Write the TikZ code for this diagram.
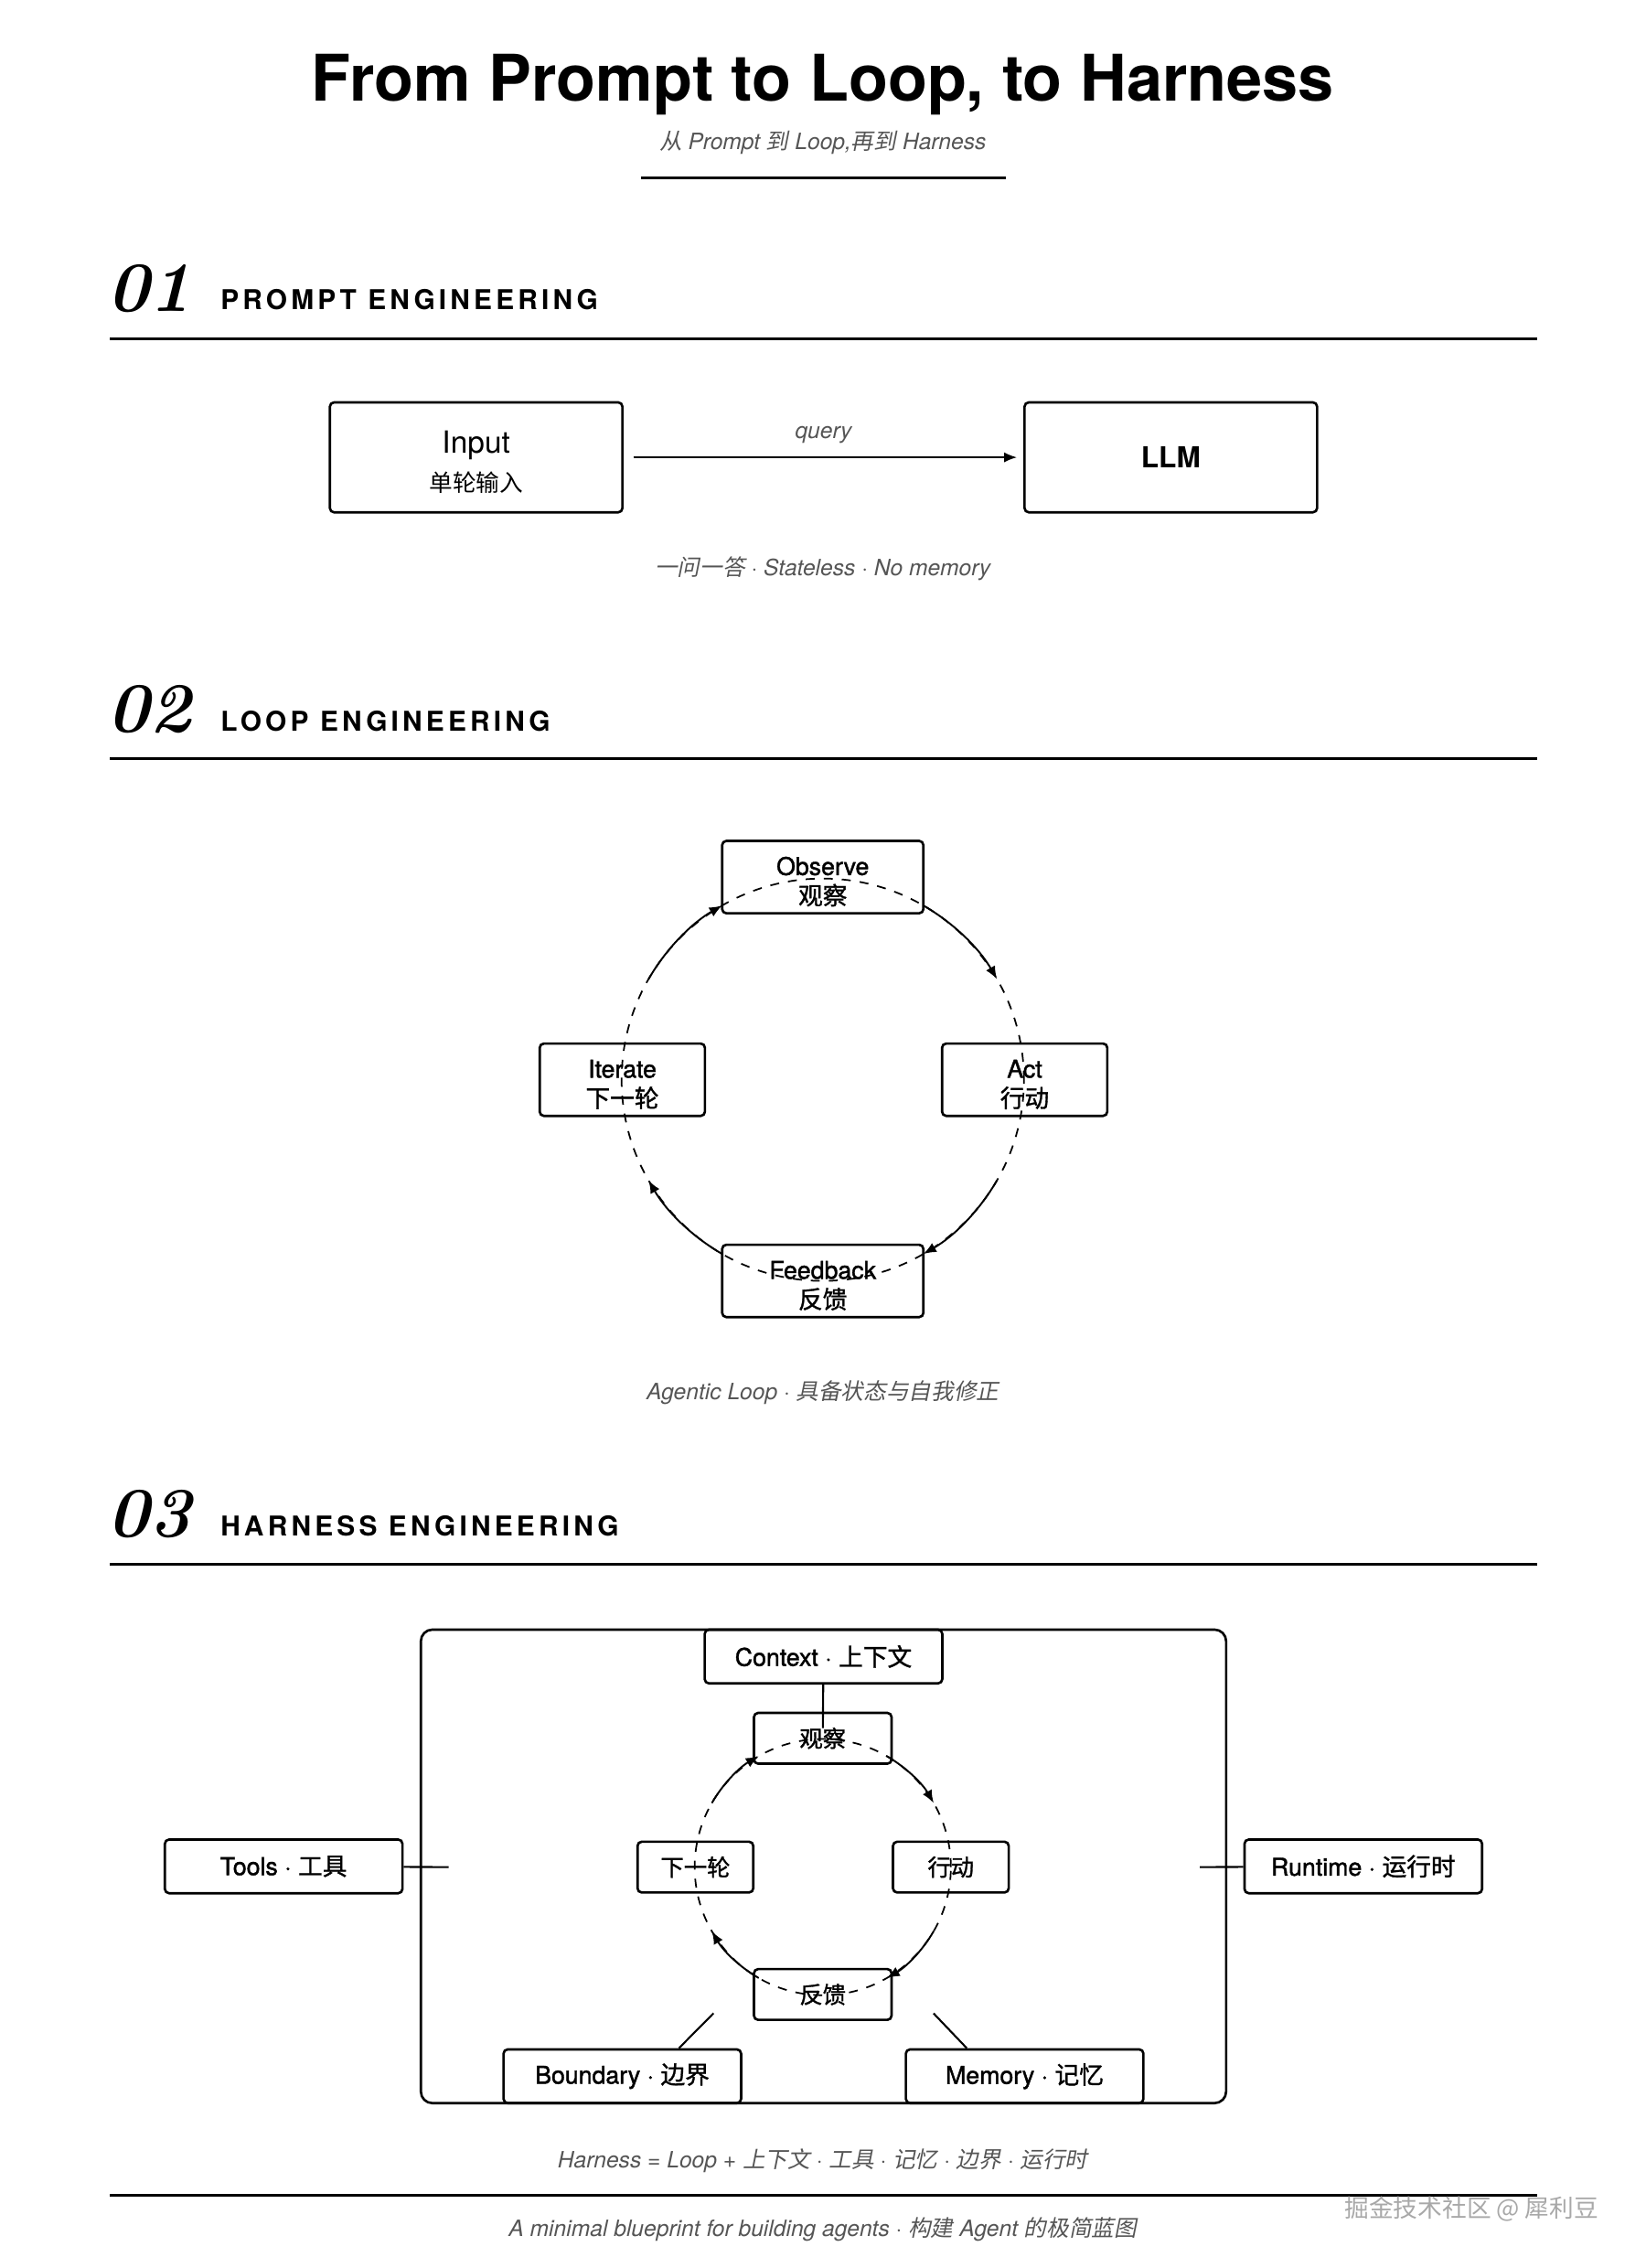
\documentclass[tikz,border=0pt]{standalone}
\usepackage{fontspec}
\setsansfont{TeX Gyre Heros}
\renewcommand{\familydefault}{\sfdefault}
\newfontfamily\numfont{Latin Modern Roman}
\newfontfamily\labfont[FakeBold=1.5]{TeX Gyre Heros}
\newfontfamily\zhfont{Noto Sans CJK SC}
\newfontfamily\zhlabfont[FakeBold=1.2]{Noto Sans CJK SC}
\newfontfamily\zhitfont[FakeSlant=0.2]{Noto Sans CJK SC}
\newcommand{\zh}[1]{{\zhlabfont #1}}
\newcommand{\zhit}[1]{{\zhitfont #1}}
\usepackage{xcolor}
\usepackage{tikz}
\usetikzlibrary{arrows.meta}
\definecolor{capgray}{HTML}{555555}
\definecolor{markgray}{HTML}{A8A8A8}

\begin{document}
\begin{tikzpicture}[x=0.01583cm, y=0.01583cm]
				\tikzset{arrow/.style={-{Latex[length=4pt, width=3.2pt]}, line width=0.55pt}}
				\tikzset{box/.style={draw, rounded corners=1.3pt, line width=0.75pt, inner sep=0pt, align=center}}
				\tikzset{rule/.style={line width=0.8pt}}
				\tikzset{loopline/.style={dash pattern=on 2.8pt off 2.8pt, line width=0.5pt}}
				\tikzset{caption/.style={text=capgray, font=\itshape\fontsize{7}{8}\selectfont, anchor=base, inner sep=0pt}}
				\tikzset{num/.style={font=\numfont\bfseries\itshape\fontsize{22}{22}\selectfont, anchor=base west, inner sep=0pt}}
				\tikzset{head/.style={font=\bfseries\fontsize{8.5}{10}\selectfont\addfontfeature{LetterSpace=14}, anchor=base west, inner sep=0pt}}
				\tikzset{bigbox/.style={box, minimum width=91pt, minimum height=34.2pt}}
				\tikzset{stepbox/.style={box, minimum height=22.5pt, font=\labfont\fontsize{7.6}{9.2}\selectfont}}
				\tikzset{smallbox/.style={box, minimum height=15.8pt, font=\zhlabfont\fontsize{7.2}{8}\selectfont}}
				\tikzset{partbox/.style={box, minimum width=73.9pt, minimum height=16.7pt, font=\labfont\fontsize{7.6}{9}\selectfont}}

				\useasboundingbox (0,0) rectangle (1137,-1567);

				% title
				\node (title) [anchor=base, font=\bfseries\fontsize{20}{24}\selectfont] at (568.5,-70) {From Prompt to Loop, to Harness};
				\node (sub) [caption] at (568.5,-103) {\zhit{从} Prompt \zhit{到} Loop,\zhit{再到} Harness};
				\draw[rule] (443,-123) -- (695,-123);

				% 01 prompt
				\node (n1) [num] at (74,-215) {01};
				\node (h1) [head] at (152,-214) {PROMPT ENGINEERING};
				\draw[rule] (76,-234) -- (1062,-234);

				\node (input) [bigbox] at (329,-316) {{\fontsize{9.5}{12}\selectfont\rule{0pt}{10pt}Input}\\{\zhfont\fontsize{7.3}{12}\selectfont 单轮输入}};
				\node (llm) [bigbox] at (809,-316) {\bfseries\fontsize{9}{11}\selectfont LLM};
				\draw[arrow, shorten <=3pt, shorten >=2pt] (input) -- node[caption, midway, yshift=6pt] {query} (llm);
				\node (cap1) [caption] at (568.5,-398) {\zhit{一问一答} · Stateless · No memory};

				% 02 loop
				\node (n2) [num] at (74,-506) {02};
				\node (h2) [head] at (152,-505) {LOOP ENGINEERING};
				\draw[rule] (76,-524) -- (1062,-524);

				\coordinate (lc) at (568.5,-746);
				\node (obs) [stepbox, minimum width=62.6pt] at (568.5,-606) {\rule{0pt}{8.5pt}Observe\\\zh{观察}};
				\node (act) [stepbox, minimum width=51.4pt] at (708,-746) {\rule{0pt}{8.5pt}Act\\\zh{行动}};
				\node (it) [stepbox, minimum width=51.4pt] at (430,-746) {\rule{0pt}{8.5pt}Iterate\\\zh{下一轮}};
				\node (fb) [stepbox, minimum width=62.6pt] at (568.5,-885) {\rule{0pt}{8.5pt}Feedback\\\zh{反馈}};

				\draw[loopline] (lc) circle[radius=139];
				\foreach \s/\e in {60/30, -30/-60, 240/210, 150/120}
				{ \draw[arrow] (lc) ++(\s:139) arc[start angle=\s, end angle=\e, radius=139]; }

				\node (cap2) [caption] at (568.5,-967) {Agentic Loop · \zhit{具备状态与自我修正}};

				% 03 harness
				\node (n3) [num] at (74,-1062) {03};
				\node (h3) [head] at (152,-1061) {HARNESS ENGINEERING};
				\draw[rule] (76,-1081) -- (1062,-1081);

				\node (harness) [draw, rounded corners=3.6pt, line width=0.75pt, minimum width=250.5pt, minimum height=147.3pt] at (569,-1289.5) {};

				\coordinate (hc) at (568.5,-1290);
				\node (hobs) [smallbox, minimum width=42.8pt] at (568.5,-1201) {观察};
				\node (hact) [smallbox, minimum width=36pt] at (657,-1290) {行动};
				\node (hit) [smallbox, minimum width=36pt] at (480.5,-1290) {下一轮};
				\node (hfb) [smallbox, minimum width=42.8pt] at (568.5,-1378) {反馈};

				\draw[loopline] (hc) circle[radius=88.5];
				\foreach \s/\e in {60/30, -30/-60, 240/210, 150/120}
				{ \draw[arrow] (hc) ++(\s:88.5) arc[start angle=\s, end angle=\e, radius=88.5]; }

				\node (ctx) [partbox] at (569,-1144.5) {Context · \zh{上下文}};
				\node (tools) [partbox] at (196,-1289.5) {Tools · \zh{工具}};
				\node (runtime) [partbox] at (942,-1289.5) {Runtime · \zh{运行时}};
				\node (bound) [partbox] at (430,-1434.5) {Boundary · \zh{边界}};
				\node (mem) [partbox] at (708,-1434.5) {Memory · \zh{记忆}};

				\coordinate (tl) at (310,-1290);
				\coordinate (rl) at (829,-1290);
				\coordinate (bl) at (493,-1391);
				\coordinate (ml) at (645,-1391);
				\draw[line width=0.6pt, shorten >=3.2pt] (ctx) -- (hobs.center);
				\draw[line width=0.6pt] (tools) -- (tl);
				\draw[line width=0.6pt] (runtime) -- (rl);
				\draw[line width=0.6pt] ([xshift=17.6pt]bound.north) -- (bl);
				\draw[line width=0.6pt] ([xshift=-18pt]mem.north) -- (ml);

				\node (cap3) [caption] at (568.5,-1498) {Harness = Loop + \zhit{上下文} · \zhit{工具} · \zhit{记忆} · \zhit{边界} · \zhit{运行时}};
				\draw[rule] (76,-1517) -- (1062,-1517);
				\node (cap4) [caption] at (568.5,-1545) {A minimal blueprint for building agents · \zhit{构建} Agent \zhit{的极简蓝图}};

				% watermark
				\node (mark) [text=markgray, anchor=base east, inner sep=0pt, font=\zhfont\fontsize{7.6}{8}\selectfont] at (1105,-1532) {掘金技术社区 @ 犀利豆};

			\end{tikzpicture}
\end{document}
